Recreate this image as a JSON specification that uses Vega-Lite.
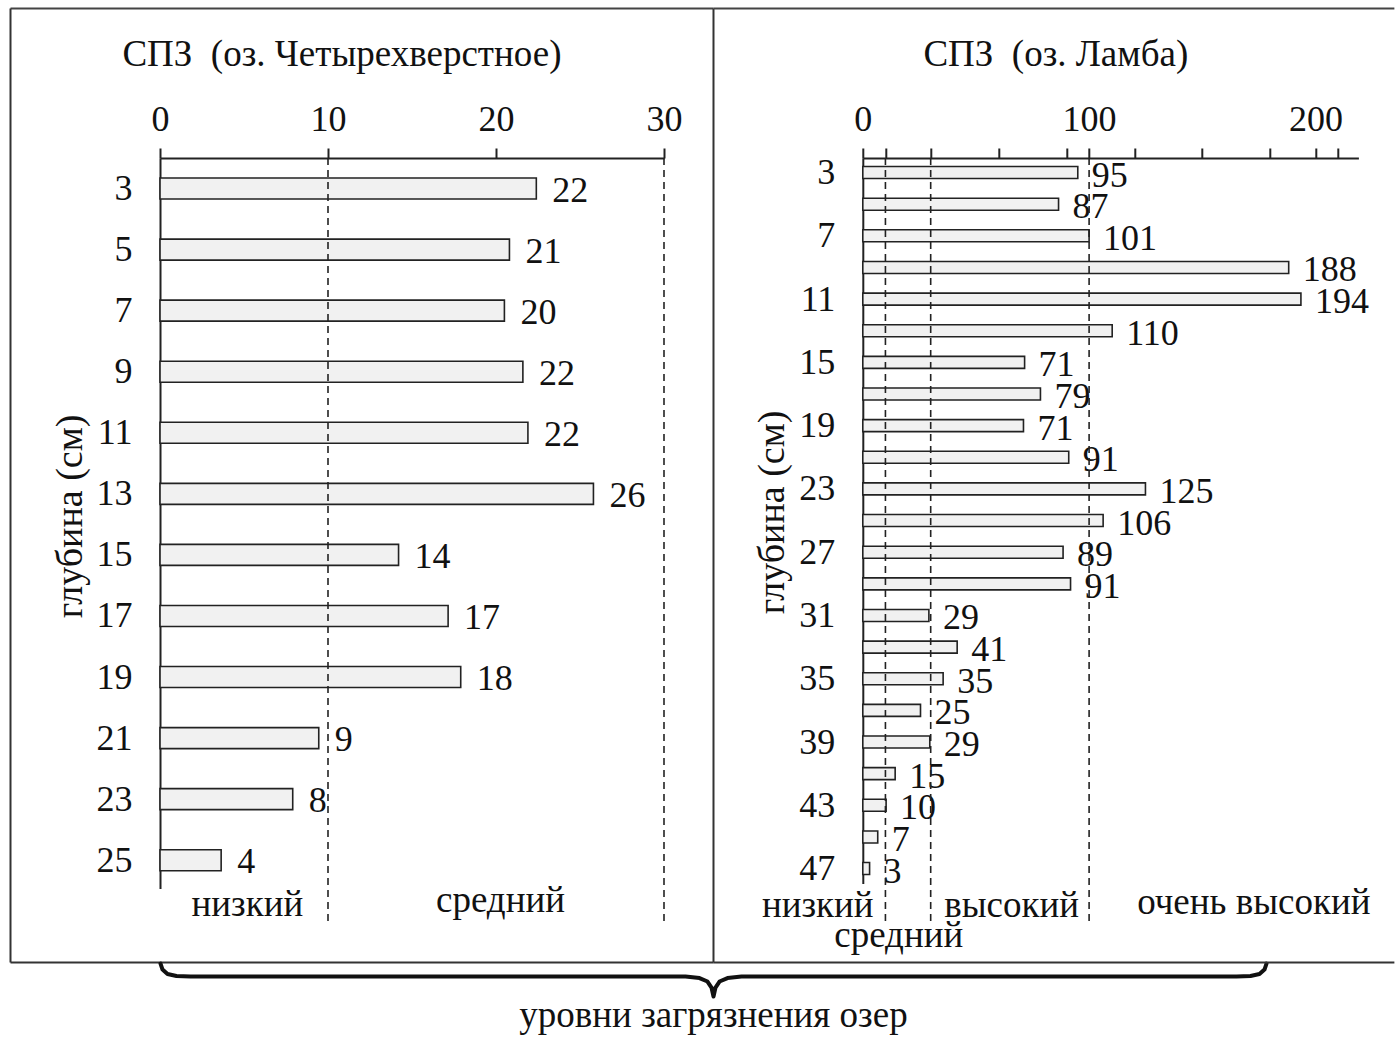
{
  "$schema": "https://vega.github.io/schema/vega-lite/v6.json",
  "padding": {"left": 9, "top": 7, "right": 0, "bottom": 0},
  "background": "white",
  "bounds": "flush",
  "spacing": 198.8,
  "config": {
    "font": "Liberation Serif",
    "view": {"stroke": null},
    "axis": {"grid": false, "labelFont": "Liberation Serif", "titleFont": "Liberation Serif", "labelColor": "#111", "titleColor": "#111", "tickColor": "#222", "domainColor": "#222", "domainWidth": 2, "labelFlush": false, "labelOverlap": false},
    "text": {"font": "Liberation Serif", "color": "#111"}
  },
  "hconcat": [
    {
      "width": 504,
      "height": 730.6,
      "data": {"values": [
        {"depth": 3, "length": 22.4, "label": 22},
        {"depth": 5, "length": 20.8, "label": 21},
        {"depth": 7, "length": 20.5, "label": 20},
        {"depth": 9, "length": 21.6, "label": 22},
        {"depth": 11, "length": 21.9, "label": 22},
        {"depth": 13, "length": 25.8, "label": 26},
        {"depth": 15, "length": 14.2, "label": 14},
        {"depth": 17, "length": 17.15, "label": 17},
        {"depth": 19, "length": 17.9, "label": 18},
        {"depth": 21, "length": 9.45, "label": 9},
        {"depth": 23, "length": 7.9, "label": 8},
        {"depth": 25, "length": 3.64, "label": 4}
      ]},
      "layer": [
        {
          "mark": {"type": "bar", "size": 21, "fill": "#f1f1f1", "stroke": "#222", "strokeWidth": 1.6},
          "encoding": {
            "x": {"field": "length", "type": "quantitative", "scale": {"domain": [0, 30], "nice": false, "zero": false, "padding": 0},
              "axis": {"orient": "top", "values": [0, 10, 20, 30], "domain": true, "ticks": true, "tickSize": 10, "tickWidth": 2, "labelFontSize": 36, "labelPadding": 10, "title": null}},
            "x2": {"datum": 0},
            "y": {"field": "depth", "type": "quantitative", "scale": {"domain": [2, 25.93], "reverse": true, "nice": false, "zero": false, "padding": 0},
              "axis": {"orient": "left", "values": [3, 5, 7, 9, 11, 13, 15, 17, 19, 21, 23, 25], "domain": true, "ticks": false, "labelFontSize": 36, "labelPadding": 28, "title": "глубина (см)", "titleFontSize": 38, "titleFontWeight": "normal", "titlePadding": 7, "titleY": 358}}
          }
        },
        {
          "mark": {"type": "text", "align": "left", "baseline": "middle", "dx": 16, "dy": 2, "fontSize": 36},
          "encoding": {
            "x": {"field": "length", "type": "quantitative"},
            "y": {"field": "depth", "type": "quantitative"},
            "text": {"field": "label", "type": "nominal"}
          }
        },
        {
          "data": {"values": [{"level": 10}, {"level": 30}]},
          "mark": {"type": "rule", "stroke": "#222", "strokeWidth": 1.6, "strokeDash": [7, 5]},
          "encoding": {"x": {"field": "level", "type": "quantitative"}, "y": {"datum": 2}, "y2": {"datum": 27.0}}
        },
        {
          "data": {"values": [{}]},
          "mark": {"type": "rule", "stroke": "#444", "strokeWidth": 2},
          "encoding": {"x": {"datum": -8.899}, "x2": {"datum": 32.946}, "y": {"datum": -2.896}}
        },
        {
          "data": {"values": [{}]},
          "mark": {"type": "rule", "stroke": "#333", "strokeWidth": 2},
          "encoding": {"x": {"datum": -8.899}, "x2": {"datum": 32.946}, "y": {"datum": 28.352}}
        },
        {
          "data": {"values": [{}]},
          "mark": {"type": "rule", "stroke": "#333", "strokeWidth": 2},
          "encoding": {"x": {"datum": -8.899}, "y": {"datum": -2.896}, "y2": {"datum": 28.352}}
        },
        {
          "data": {"values": [{}]},
          "mark": {"type": "rule", "stroke": "#333", "strokeWidth": 2},
          "encoding": {"x": {"datum": 32.946}, "y": {"datum": -2.896}, "y2": {"datum": 28.352}}
        },
        {
          "data": {"values": [{}]},
          "mark": {"type": "text", "text": "низкий", "align": "center", "baseline": "alphabetic", "fontSize": 37},
          "encoding": {"x": {"datum": 5.2}, "y": {"datum": 26.84}}
        },
        {
          "data": {"values": [{}]},
          "mark": {"type": "text", "text": "средний", "align": "center", "baseline": "alphabetic", "fontSize": 37},
          "encoding": {"x": {"datum": 20.27}, "y": {"datum": 26.71}}
        },
        {
          "data": {"values": [{}]},
          "mark": {"type": "text", "text": "СПЗ\u00a0 (оз. Четырехверстное)", "align": "center", "baseline": "alphabetic", "fontSize": 37},
          "encoding": {"x": {"datum": 10.83}, "y": {"datum": -1.0}}
        },
        {
          "data": {"values": [
            {"bx": 0.03, "by": 28.385}, {"bx": 0.149, "by": 28.581}, {"bx": 0.446, "by": 28.729}, {"bx": 0.982, "by": 28.794}, {"bx": 1.815, "by": 28.81},
            {"bx": 31.28, "by": 28.81}, {"bx": 32.113, "by": 28.86}, {"bx": 32.589, "by": 28.974}, {"bx": 32.827, "by": 29.171}, {"bx": 32.946, "by": 29.466},
            {"bx": 33.065, "by": 29.171}, {"bx": 33.304, "by": 28.974}, {"bx": 33.78, "by": 28.86}, {"bx": 34.613, "by": 28.81},
            {"bx": 64.08, "by": 28.81}, {"bx": 64.911, "by": 28.794}, {"bx": 65.446, "by": 28.729}, {"bx": 65.744, "by": 28.581}, {"bx": 65.863, "by": 28.385}
          ]},
          "mark": {"type": "line", "interpolate": "linear", "stroke": "#111", "strokeWidth": 4, "strokeJoin": "round", "strokeCap": "round"},
          "encoding": {
            "x": {"field": "bx", "type": "quantitative"},
            "y": {"field": "by", "type": "quantitative"}
          }
        },
        {
          "data": {"values": [{}]},
          "mark": {"type": "text", "text": "уровни загрязнения озер", "align": "center", "baseline": "alphabetic", "fontSize": 37},
          "encoding": {"x": {"datum": 32.946}, "y": {"datum": 30.47}}
        }
      ]
    },
    {
      "width": 495.6,
      "height": 725.6,
      "data": {"values": [
        {"depth": 3, "length": 95, "label": 95},
        {"depth": 5, "length": 86.5, "label": 87},
        {"depth": 7, "length": 100, "label": 101},
        {"depth": 9, "length": 188.2, "label": 188},
        {"depth": 11, "length": 193.6, "label": 194},
        {"depth": 13, "length": 110.2, "label": 110},
        {"depth": 15, "length": 71.5, "label": 71},
        {"depth": 17, "length": 78.5, "label": 79},
        {"depth": 19, "length": 71.0, "label": 71},
        {"depth": 21, "length": 91.0, "label": 91},
        {"depth": 23, "length": 124.9, "label": 125},
        {"depth": 25, "length": 106.2, "label": 106},
        {"depth": 27, "length": 88.5, "label": 89},
        {"depth": 29, "length": 91.8, "label": 91},
        {"depth": 31, "length": 29.2, "label": 29},
        {"depth": 33, "length": 41.7, "label": 41},
        {"depth": 35, "length": 35.5, "label": 35},
        {"depth": 37, "length": 25.5, "label": 25},
        {"depth": 39, "length": 29.6, "label": 29},
        {"depth": 41, "length": 14.3, "label": 15},
        {"depth": 43, "length": 10.3, "label": 10},
        {"depth": 45, "length": 6.6, "label": 7},
        {"depth": 47, "length": 3.0, "label": 3}
      ]},
      "layer": [
        {
          "mark": {"type": "bar", "size": 12, "fill": "#f1f1f1", "stroke": "#222", "strokeWidth": 1.6},
          "encoding": {
            "x": {"field": "length", "type": "quantitative", "scale": {"domain": [0, 219], "nice": false, "zero": false, "padding": 0},
              "axis": {"orient": "top", "values": [0, 10, 30, 60, 90, 100, 120, 150, 180, 200, 210], "labelExpr": "datum.value % 100 == 0 ? datum.label : ''", "domain": true, "ticks": true, "tickSize": 10, "tickWidth": 2, "labelFontSize": 36, "labelPadding": 10, "title": null}},
            "x2": {"datum": 0},
            "y": {"field": "depth", "type": "quantitative", "scale": {"domain": [2.081, 47.95], "reverse": true, "nice": false, "zero": false, "padding": 0},
              "axis": {"orient": "left", "values": [3, 7, 11, 15, 19, 23, 27, 31, 35, 39, 43, 47], "domain": true, "ticks": false, "labelFontSize": 36, "labelPadding": 28, "title": "глубина (см)", "titleFontSize": 38, "titleFontWeight": "normal", "titlePadding": 7, "titleY": 354}}
          }
        },
        {
          "mark": {"type": "text", "align": "left", "baseline": "middle", "dx": 14, "dy": 3, "fontSize": 36},
          "encoding": {
            "x": {"field": "length", "type": "quantitative"},
            "y": {"field": "depth", "type": "quantitative"},
            "text": {"field": "label", "type": "nominal"}
          }
        },
        {
          "data": {"values": [{"level": 10}, {"level": 30}, {"level": 100}]},
          "mark": {"type": "rule", "stroke": "#222", "strokeWidth": 1.6, "strokeDash": [7, 5]},
          "encoding": {"x": {"field": "level", "type": "quantitative"}, "y": {"datum": 2.081}, "y2": {"datum": 50.4}}
        },
        {
          "data": {"values": [{}]},
          "mark": {"type": "rule", "stroke": "#444", "strokeWidth": 2},
          "encoding": {"x": {"datum": -65.97}, "x2": {"datum": 234.9}, "y": {"datum": -7.368}}
        },
        {
          "data": {"values": [{}]},
          "mark": {"type": "rule", "stroke": "#333", "strokeWidth": 2},
          "encoding": {"x": {"datum": -65.97}, "x2": {"datum": 234.9}, "y": {"datum": 52.943}}
        },
        {
          "data": {"values": [{}]},
          "mark": {"type": "text", "text": "низкий", "align": "center", "baseline": "alphabetic", "fontSize": 37},
          "encoding": {"x": {"datum": -19.9}, "y": {"datum": 50.03}}
        },
        {
          "data": {"values": [{}]},
          "mark": {"type": "text", "text": "высокий", "align": "center", "baseline": "alphabetic", "fontSize": 37},
          "encoding": {"x": {"datum": 65.8}, "y": {"datum": 50.03}}
        },
        {
          "data": {"values": [{}]},
          "mark": {"type": "text", "text": "очень высокий", "align": "center", "baseline": "alphabetic", "fontSize": 37},
          "encoding": {"x": {"datum": 172.8}, "y": {"datum": 49.9}}
        },
        {
          "data": {"values": [{}]},
          "mark": {"type": "text", "text": "средний", "align": "center", "baseline": "alphabetic", "fontSize": 37},
          "encoding": {"x": {"datum": 15.9}, "y": {"datum": 51.93}}
        },
        {
          "data": {"values": [{}]},
          "mark": {"type": "text", "text": "СПЗ\u00a0 (оз. Ламба)", "align": "center", "baseline": "alphabetic", "fontSize": 37},
          "encoding": {"x": {"datum": 85.3}, "y": {"datum": -3.72}}
        }
      ]
    }
  ]
}
